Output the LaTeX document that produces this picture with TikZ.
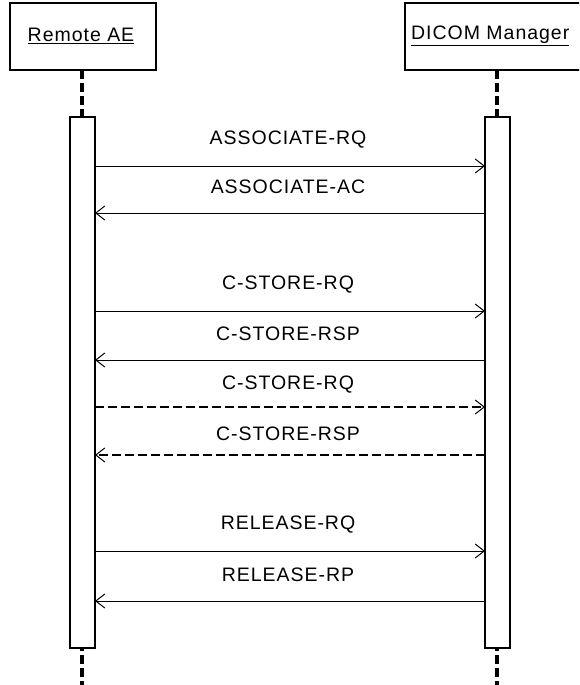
\documentclass[tikz,border=0pt]{standalone}
\usepackage{fontspec}
\setmainfont{Liberation Sans}[LetterSpace=5]
\usetikzlibrary{arrows.meta}
\begin{document}
\begin{tikzpicture}[x=1pt,y=-1pt,
  actbox/.style={draw,line width=1.3pt,fill=white},
  lifeline/.style={line width=3.4pt,dash pattern=on 9pt off 4pt},
  msg/.style={line width=1pt,-{Straight Barb[length=9pt,width=14pt,line width=1pt]}},
  dmsg/.style={line width=2.4pt,dash pattern=on 9pt off 4pt,-{Straight Barb[length=9pt,width=14pt,line width=1pt]}},
  lbl/.style={font=\fontsize{19.5}{21}\selectfont,inner sep=0pt}]
\useasboundingbox (0,0) rectangle (579,685);
\begin{scope}
\clip (0,0) rectangle (579,685);
% object boxes
\draw[line width=1.3pt] (10,3) rectangle (156,70);
\draw[line width=1.3pt] (405,3) rectangle (592,70);
\node[lbl] (ra) at (81,36) {\underline{Remote AE}};
\node[lbl,anchor=west] (dm) at (411,36) {\underline{DICOM Manager}};
% lifelines
\coordinate (lt) at (82,70); \coordinate (lb) at (82,685);
\coordinate (rt) at (497,70); \coordinate (rb) at (497,685);
\draw[lifeline] (lt) -- (lb);
\draw[lifeline] (rt) -- (rb);
% activation boxes
\draw[actbox] (70,117) rectangle (95,648);
\draw[actbox] (485,117) rectangle (510,648);
\end{scope}
% messages
\foreach \y/\t/\d in {166/ASSOCIATE-RQ/1,213/ASSOCIATE-AC/0,311/C-STORE-RQ/1,360/C-STORE-RSP/0,551/RELEASE-RQ/1,601/RELEASE-RP/0}{
  \coordinate (L\y) at (95,\y); \coordinate (R\y) at (485,\y);
  \ifnum\d=1 \draw[msg] (L\y) -- (R\y); \else \draw[msg] (R\y) -- (L\y); \fi
  \node[lbl] (t\y) at (288,\y-26) {\t};
}
\coordinate (L407) at (95,407); \coordinate (R407) at (485,407);
\coordinate (L455) at (95,455); \coordinate (R455) at (485,455);
\draw[dmsg] (L407) -- (R407);
\draw[dmsg] (R455) -- (L455);
\node[lbl] (t407) at (288,385) {C-STORE-RQ};
\node[lbl] (t455) at (288,434) {C-STORE-RSP};
\end{tikzpicture}
\end{document}
